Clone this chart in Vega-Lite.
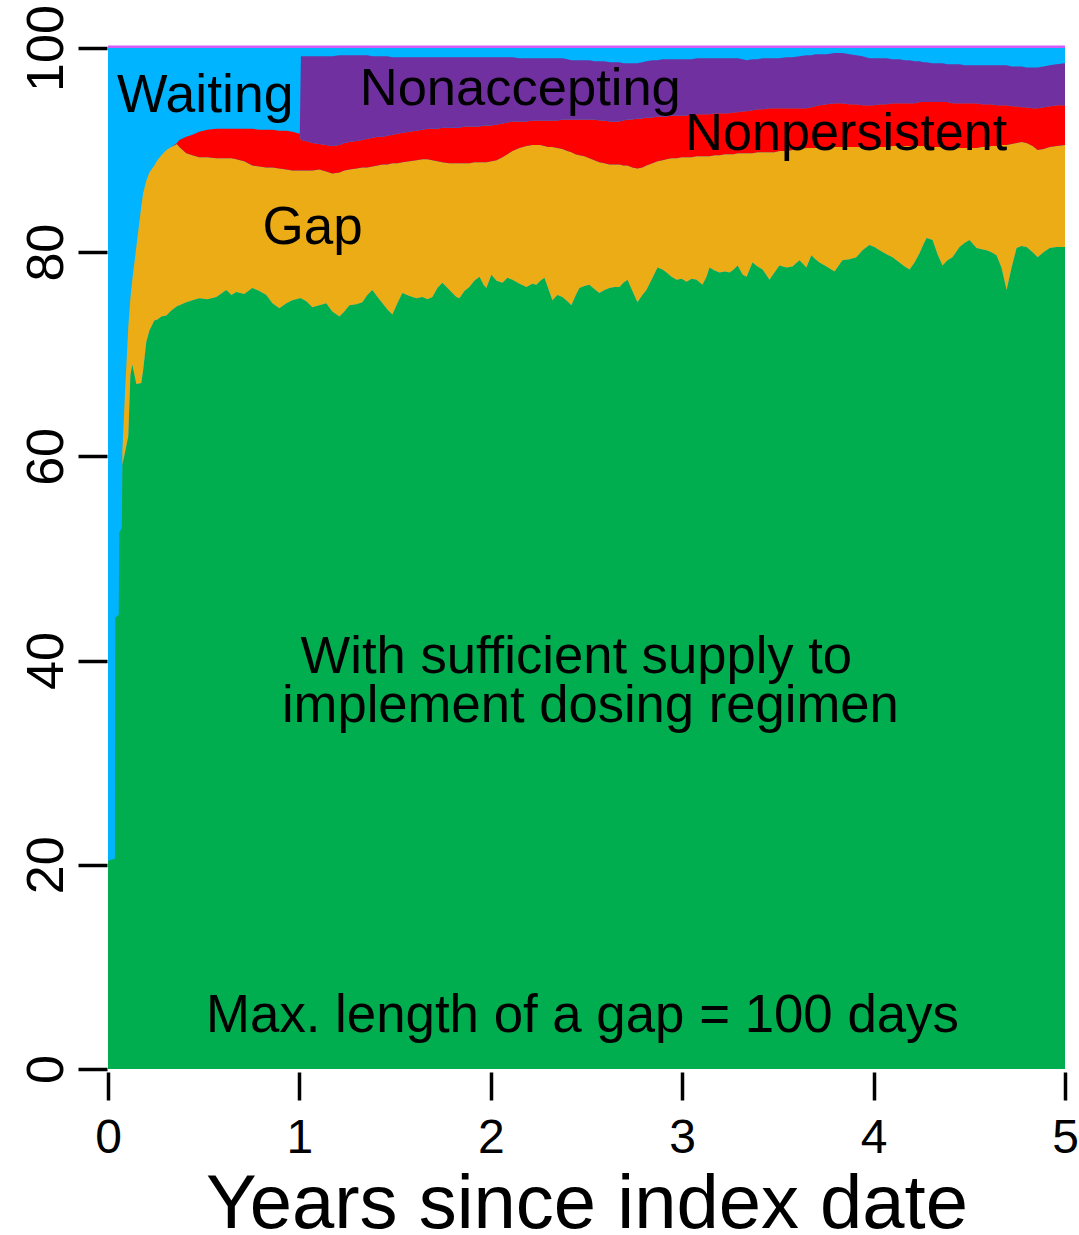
{
  "$schema": "https://vega.github.io/schema/vega-lite/v6.json",
  "width": 957,
  "height": 1021,
  "autosize": {"type": "none"},
  "padding": {"left": 108, "top": 48, "right": 14, "bottom": 166},
  "background": "white",
  "config": {"font": "Liberation Sans", "view": {"stroke": null, "fill": "#00B4FF"}},
  "datasets": {
    "shares": [
      {"t": 0.000, "g": 20.4, "o": 20.4, "r": 20.4, "p": 20.4},
      {"t": 0.036, "g": 20.6, "o": 20.6, "r": 20.6, "p": 20.6},
      {"t": 0.038, "g": 44.2, "o": 44.2, "r": 44.2, "p": 44.2},
      {"t": 0.056, "g": 44.5, "o": 44.5, "r": 44.5, "p": 44.5},
      {"t": 0.059, "g": 52.5, "o": 52.5, "r": 52.5, "p": 52.5},
      {"t": 0.072, "g": 53.0, "o": 53.0, "r": 53.0, "p": 53.0},
      {"t": 0.075, "g": 59.2, "o": 60.5, "r": 60.5, "p": 60.5},
      {"t": 0.090, "g": 60.5, "o": 66.7, "r": 66.7, "p": 66.7},
      {"t": 0.106, "g": 62.0, "o": 72.7, "r": 72.7, "p": 72.7},
      {"t": 0.117, "g": 68.0, "o": 75.5, "r": 75.5, "p": 75.5},
      {"t": 0.127, "g": 69.0, "o": 77.3, "r": 77.3, "p": 77.3},
      {"t": 0.148, "g": 67.1, "o": 80.5, "r": 80.5, "p": 80.5},
      {"t": 0.174, "g": 67.2, "o": 84.5, "r": 84.5, "p": 84.5},
      {"t": 0.184, "g": 68.5, "o": 85.8, "r": 85.8, "p": 85.8},
      {"t": 0.200, "g": 71.2, "o": 87.0, "r": 87.0, "p": 87.0},
      {"t": 0.216, "g": 72.3, "o": 87.8, "r": 87.8, "p": 87.8},
      {"t": 0.242, "g": 73.3, "o": 88.5, "r": 88.5, "p": 88.5},
      {"t": 0.258, "g": 73.4, "o": 89.0, "r": 89.0, "p": 89.0},
      {"t": 0.279, "g": 73.7, "o": 89.5, "r": 89.5, "p": 89.5},
      {"t": 0.305, "g": 73.8, "o": 90.0, "r": 90.0, "p": 90.0},
      {"t": 0.331, "g": 74.3, "o": 90.3, "r": 90.3, "p": 90.3},
      {"t": 0.360, "g": 74.7, "o": 90.6, "r": 90.7, "p": 90.7},
      {"t": 0.373, "g": 74.8, "o": 90.3, "r": 91.0, "p": 91.0},
      {"t": 0.409, "g": 75.1, "o": 89.7, "r": 91.3, "p": 91.3},
      {"t": 0.441, "g": 75.3, "o": 89.5, "r": 91.5, "p": 91.5},
      {"t": 0.477, "g": 75.5, "o": 89.3, "r": 91.8, "p": 91.8},
      {"t": 0.519, "g": 75.4, "o": 89.3, "r": 92.0, "p": 92.0},
      {"t": 0.566, "g": 75.6, "o": 89.2, "r": 92.1, "p": 92.1},
      {"t": 0.618, "g": 76.3, "o": 89.2, "r": 92.1, "p": 92.1},
      {"t": 0.645, "g": 75.8, "o": 89.2, "r": 92.1, "p": 92.1},
      {"t": 0.670, "g": 76.1, "o": 89.1, "r": 92.1, "p": 92.1},
      {"t": 0.712, "g": 75.9, "o": 88.9, "r": 92.1, "p": 92.1},
      {"t": 0.754, "g": 76.5, "o": 88.5, "r": 92.1, "p": 92.1},
      {"t": 0.791, "g": 76.2, "o": 88.4, "r": 92.0, "p": 92.0},
      {"t": 0.827, "g": 75.8, "o": 88.3, "r": 92.0, "p": 92.0},
      {"t": 0.859, "g": 75.0, "o": 88.3, "r": 92.0, "p": 92.0},
      {"t": 0.895, "g": 74.5, "o": 88.2, "r": 91.9, "p": 91.9},
      {"t": 0.932, "g": 75.0, "o": 88.1, "r": 91.9, "p": 91.9},
      {"t": 0.963, "g": 75.3, "o": 88.0, "r": 91.8, "p": 91.8},
      {"t": 1.002, "g": 75.5, "o": 88.0, "r": 91.6, "p": 91.6},
      {"t": 1.008, "g": 75.5, "o": 88.0, "r": 91.0, "p": 99.2},
      {"t": 1.036, "g": 75.2, "o": 88.0, "r": 90.9, "p": 99.2},
      {"t": 1.068, "g": 74.6, "o": 88.0, "r": 90.7, "p": 99.2},
      {"t": 1.104, "g": 74.8, "o": 88.1, "r": 90.6, "p": 99.2},
      {"t": 1.140, "g": 75.0, "o": 87.9, "r": 90.5, "p": 99.2},
      {"t": 1.172, "g": 74.2, "o": 87.7, "r": 90.4, "p": 99.2},
      {"t": 1.209, "g": 73.7, "o": 87.8, "r": 90.5, "p": 99.3},
      {"t": 1.235, "g": 74.2, "o": 88.0, "r": 90.7, "p": 99.3},
      {"t": 1.261, "g": 74.8, "o": 88.1, "r": 90.8, "p": 99.3},
      {"t": 1.298, "g": 74.9, "o": 88.2, "r": 90.9, "p": 99.3},
      {"t": 1.329, "g": 75.1, "o": 88.3, "r": 91.0, "p": 99.3},
      {"t": 1.355, "g": 75.8, "o": 88.3, "r": 91.1, "p": 99.3},
      {"t": 1.381, "g": 76.3, "o": 88.4, "r": 91.2, "p": 99.2},
      {"t": 1.408, "g": 75.6, "o": 88.5, "r": 91.3, "p": 99.2},
      {"t": 1.434, "g": 75.0, "o": 88.6, "r": 91.3, "p": 99.2},
      {"t": 1.460, "g": 74.4, "o": 88.6, "r": 91.4, "p": 99.2},
      {"t": 1.486, "g": 73.9, "o": 88.7, "r": 91.5, "p": 99.1},
      {"t": 1.512, "g": 75.0, "o": 88.7, "r": 91.6, "p": 99.1},
      {"t": 1.538, "g": 76.0, "o": 88.8, "r": 91.7, "p": 99.1},
      {"t": 1.575, "g": 75.7, "o": 88.9, "r": 91.8, "p": 99.1},
      {"t": 1.611, "g": 75.5, "o": 89.0, "r": 91.9, "p": 99.1},
      {"t": 1.643, "g": 75.6, "o": 89.1, "r": 92.0, "p": 99.1},
      {"t": 1.669, "g": 75.4, "o": 89.1, "r": 92.1, "p": 99.1},
      {"t": 1.695, "g": 75.6, "o": 89.0, "r": 92.1, "p": 99.1},
      {"t": 1.721, "g": 76.5, "o": 88.9, "r": 92.1, "p": 99.1},
      {"t": 1.747, "g": 77.0, "o": 88.8, "r": 92.2, "p": 99.1},
      {"t": 1.784, "g": 76.3, "o": 88.7, "r": 92.2, "p": 99.1},
      {"t": 1.820, "g": 75.6, "o": 88.7, "r": 92.2, "p": 99.1},
      {"t": 1.836, "g": 75.5, "o": 88.7, "r": 92.2, "p": 99.1},
      {"t": 1.862, "g": 76.2, "o": 88.7, "r": 92.3, "p": 99.1},
      {"t": 1.888, "g": 76.6, "o": 88.7, "r": 92.3, "p": 99.1},
      {"t": 1.914, "g": 77.2, "o": 88.8, "r": 92.3, "p": 99.1},
      {"t": 1.941, "g": 77.6, "o": 88.8, "r": 92.3, "p": 99.1},
      {"t": 1.962, "g": 76.8, "o": 88.8, "r": 92.4, "p": 99.1},
      {"t": 1.977, "g": 76.5, "o": 88.8, "r": 92.4, "p": 99.1},
      {"t": 2.003, "g": 77.8, "o": 88.9, "r": 92.4, "p": 99.1},
      {"t": 2.030, "g": 77.2, "o": 89.0, "r": 92.5, "p": 99.1},
      {"t": 2.061, "g": 77.0, "o": 89.3, "r": 92.6, "p": 99.1},
      {"t": 2.087, "g": 77.5, "o": 89.6, "r": 92.7, "p": 99.1},
      {"t": 2.113, "g": 77.3, "o": 89.9, "r": 92.8, "p": 99.1},
      {"t": 2.150, "g": 76.9, "o": 90.2, "r": 92.8, "p": 99.0},
      {"t": 2.186, "g": 76.6, "o": 90.4, "r": 92.8, "p": 99.0},
      {"t": 2.217, "g": 76.9, "o": 90.5, "r": 92.9, "p": 99.0},
      {"t": 2.238, "g": 76.8, "o": 90.5, "r": 92.9, "p": 99.0},
      {"t": 2.259, "g": 77.2, "o": 90.5, "r": 92.9, "p": 99.0},
      {"t": 2.280, "g": 77.5, "o": 90.4, "r": 92.9, "p": 99.0},
      {"t": 2.301, "g": 76.4, "o": 90.3, "r": 92.9, "p": 99.0},
      {"t": 2.322, "g": 75.3, "o": 90.3, "r": 92.9, "p": 99.0},
      {"t": 2.348, "g": 75.8, "o": 90.2, "r": 92.9, "p": 99.0},
      {"t": 2.374, "g": 75.6, "o": 90.1, "r": 93.0, "p": 99.0},
      {"t": 2.400, "g": 75.2, "o": 89.9, "r": 93.0, "p": 98.9},
      {"t": 2.421, "g": 74.8, "o": 89.8, "r": 93.0, "p": 98.8},
      {"t": 2.442, "g": 75.7, "o": 89.6, "r": 93.0, "p": 98.8},
      {"t": 2.463, "g": 76.5, "o": 89.5, "r": 93.0, "p": 98.8},
      {"t": 2.489, "g": 76.7, "o": 89.4, "r": 93.0, "p": 98.8},
      {"t": 2.515, "g": 76.8, "o": 89.2, "r": 93.0, "p": 98.8},
      {"t": 2.541, "g": 76.4, "o": 89.0, "r": 93.0, "p": 98.7},
      {"t": 2.567, "g": 76.0, "o": 88.8, "r": 92.9, "p": 98.7},
      {"t": 2.594, "g": 76.3, "o": 88.7, "r": 92.9, "p": 98.7},
      {"t": 2.620, "g": 76.5, "o": 88.6, "r": 92.8, "p": 98.6},
      {"t": 2.646, "g": 76.6, "o": 88.6, "r": 92.8, "p": 98.6},
      {"t": 2.672, "g": 76.6, "o": 88.6, "r": 92.8, "p": 98.6},
      {"t": 2.693, "g": 77.0, "o": 88.5, "r": 92.9, "p": 98.5},
      {"t": 2.714, "g": 77.3, "o": 88.5, "r": 93.0, "p": 98.5},
      {"t": 2.740, "g": 76.2, "o": 88.3, "r": 93.0, "p": 98.5},
      {"t": 2.766, "g": 75.1, "o": 88.2, "r": 93.1, "p": 98.5},
      {"t": 2.792, "g": 75.8, "o": 88.3, "r": 93.1, "p": 98.6},
      {"t": 2.813, "g": 76.3, "o": 88.5, "r": 93.2, "p": 98.7},
      {"t": 2.845, "g": 77.5, "o": 88.7, "r": 93.2, "p": 98.8},
      {"t": 2.871, "g": 78.5, "o": 88.9, "r": 93.3, "p": 98.8},
      {"t": 2.897, "g": 78.3, "o": 89.0, "r": 93.3, "p": 98.9},
      {"t": 2.918, "g": 78.0, "o": 89.1, "r": 93.3, "p": 98.9},
      {"t": 2.944, "g": 77.6, "o": 89.2, "r": 93.4, "p": 98.9},
      {"t": 2.971, "g": 77.3, "o": 89.2, "r": 93.4, "p": 98.9},
      {"t": 2.997, "g": 77.4, "o": 89.3, "r": 93.4, "p": 98.9},
      {"t": 3.023, "g": 77.1, "o": 89.3, "r": 93.4, "p": 98.9},
      {"t": 3.049, "g": 77.4, "o": 89.3, "r": 93.5, "p": 98.9},
      {"t": 3.075, "g": 77.3, "o": 89.4, "r": 93.5, "p": 99.0},
      {"t": 3.106, "g": 76.8, "o": 89.4, "r": 93.5, "p": 99.0},
      {"t": 3.127, "g": 77.6, "o": 89.4, "r": 93.5, "p": 99.0},
      {"t": 3.143, "g": 78.5, "o": 89.4, "r": 93.5, "p": 99.0},
      {"t": 3.169, "g": 78.2, "o": 89.5, "r": 93.6, "p": 99.0},
      {"t": 3.195, "g": 78.0, "o": 89.5, "r": 93.6, "p": 99.0},
      {"t": 3.222, "g": 78.1, "o": 89.6, "r": 93.6, "p": 99.0},
      {"t": 3.248, "g": 78.0, "o": 89.6, "r": 93.6, "p": 99.0},
      {"t": 3.269, "g": 78.3, "o": 89.6, "r": 93.7, "p": 99.0},
      {"t": 3.290, "g": 78.7, "o": 89.7, "r": 93.7, "p": 99.0},
      {"t": 3.316, "g": 77.8, "o": 89.7, "r": 93.8, "p": 98.9},
      {"t": 3.337, "g": 77.6, "o": 89.7, "r": 93.8, "p": 98.8},
      {"t": 3.367, "g": 79.0, "o": 89.7, "r": 93.9, "p": 98.9},
      {"t": 3.394, "g": 78.6, "o": 89.8, "r": 94.0, "p": 98.9},
      {"t": 3.420, "g": 78.3, "o": 89.8, "r": 94.0, "p": 99.0},
      {"t": 3.456, "g": 77.3, "o": 89.8, "r": 94.1, "p": 99.0},
      {"t": 3.482, "g": 78.0, "o": 89.8, "r": 94.1, "p": 99.0},
      {"t": 3.508, "g": 78.7, "o": 89.9, "r": 94.1, "p": 99.0},
      {"t": 3.545, "g": 78.5, "o": 89.9, "r": 94.1, "p": 99.1},
      {"t": 3.576, "g": 78.6, "o": 90.0, "r": 94.1, "p": 99.1},
      {"t": 3.613, "g": 79.2, "o": 90.1, "r": 94.1, "p": 99.2},
      {"t": 3.649, "g": 78.5, "o": 90.2, "r": 94.1, "p": 99.3},
      {"t": 3.675, "g": 79.7, "o": 90.2, "r": 94.2, "p": 99.3},
      {"t": 3.696, "g": 79.3, "o": 90.2, "r": 94.3, "p": 99.4},
      {"t": 3.717, "g": 79.0, "o": 90.3, "r": 94.4, "p": 99.4},
      {"t": 3.754, "g": 78.6, "o": 90.3, "r": 94.5, "p": 99.4},
      {"t": 3.796, "g": 78.1, "o": 90.3, "r": 94.6, "p": 99.5},
      {"t": 3.837, "g": 79.2, "o": 90.3, "r": 94.6, "p": 99.5},
      {"t": 3.874, "g": 79.3, "o": 90.3, "r": 94.5, "p": 99.4},
      {"t": 3.910, "g": 79.5, "o": 90.3, "r": 94.5, "p": 99.3},
      {"t": 3.942, "g": 80.2, "o": 90.3, "r": 94.4, "p": 99.2},
      {"t": 3.978, "g": 80.7, "o": 90.3, "r": 94.4, "p": 99.0},
      {"t": 4.004, "g": 80.5, "o": 90.3, "r": 94.4, "p": 99.0},
      {"t": 4.031, "g": 80.2, "o": 90.3, "r": 94.5, "p": 99.0},
      {"t": 4.067, "g": 79.8, "o": 90.3, "r": 94.5, "p": 99.0},
      {"t": 4.099, "g": 79.5, "o": 90.4, "r": 94.6, "p": 98.9},
      {"t": 4.135, "g": 79.0, "o": 90.4, "r": 94.6, "p": 98.9},
      {"t": 4.162, "g": 78.6, "o": 90.4, "r": 94.6, "p": 98.8},
      {"t": 4.188, "g": 78.3, "o": 90.4, "r": 94.6, "p": 98.8},
      {"t": 4.214, "g": 79.0, "o": 90.4, "r": 94.6, "p": 98.7},
      {"t": 4.240, "g": 79.9, "o": 90.4, "r": 94.7, "p": 98.7},
      {"t": 4.261, "g": 80.8, "o": 90.4, "r": 94.7, "p": 98.6},
      {"t": 4.277, "g": 81.4, "o": 90.3, "r": 94.7, "p": 98.6},
      {"t": 4.308, "g": 81.2, "o": 90.3, "r": 94.7, "p": 98.5},
      {"t": 4.334, "g": 79.8, "o": 90.3, "r": 94.7, "p": 98.5},
      {"t": 4.360, "g": 78.7, "o": 90.3, "r": 94.7, "p": 98.5},
      {"t": 4.386, "g": 79.2, "o": 90.3, "r": 94.7, "p": 98.4},
      {"t": 4.412, "g": 79.5, "o": 90.3, "r": 94.6, "p": 98.4},
      {"t": 4.449, "g": 80.5, "o": 90.2, "r": 94.6, "p": 98.4},
      {"t": 4.475, "g": 80.9, "o": 90.2, "r": 94.6, "p": 98.3},
      {"t": 4.501, "g": 81.2, "o": 90.2, "r": 94.6, "p": 98.3},
      {"t": 4.538, "g": 80.4, "o": 90.2, "r": 94.6, "p": 98.3},
      {"t": 4.564, "g": 80.3, "o": 90.3, "r": 94.5, "p": 98.3},
      {"t": 4.590, "g": 80.2, "o": 90.3, "r": 94.5, "p": 98.3},
      {"t": 4.616, "g": 80.0, "o": 90.4, "r": 94.5, "p": 98.3},
      {"t": 4.642, "g": 79.7, "o": 90.4, "r": 94.4, "p": 98.3},
      {"t": 4.668, "g": 78.5, "o": 90.5, "r": 94.4, "p": 98.3},
      {"t": 4.695, "g": 76.3, "o": 90.5, "r": 94.4, "p": 98.3},
      {"t": 4.721, "g": 78.5, "o": 90.6, "r": 94.3, "p": 98.2},
      {"t": 4.747, "g": 80.4, "o": 90.7, "r": 94.3, "p": 98.2},
      {"t": 4.773, "g": 80.6, "o": 90.8, "r": 94.2, "p": 98.2},
      {"t": 4.799, "g": 80.5, "o": 90.7, "r": 94.2, "p": 98.1},
      {"t": 4.831, "g": 80.0, "o": 90.4, "r": 94.1, "p": 98.1},
      {"t": 4.857, "g": 79.5, "o": 90.0, "r": 94.1, "p": 98.1},
      {"t": 4.888, "g": 80.0, "o": 90.1, "r": 94.2, "p": 98.2},
      {"t": 4.920, "g": 80.4, "o": 90.3, "r": 94.3, "p": 98.3},
      {"t": 4.956, "g": 80.5, "o": 90.4, "r": 94.4, "p": 98.4},
      {"t": 5.000, "g": 80.5, "o": 90.5, "r": 94.4, "p": 98.5}
    ]
  },
  "layer": [
    {
      "data": {"name": "shares"},
      "mark": {"type": "area", "color": "#00AD4F", "interpolate": "linear"},
      "encoding": {
        "x": {
          "field": "t",
          "type": "quantitative",
          "scale": {"domain": [0, 5], "nice": false, "zero": false},
          "axis": {
            "values": [0, 1, 2, 3, 4, 5],
            "format": "d",
            "title": "Years since index date",
            "titleFontSize": 76,
            "titleFontWeight": "normal",
            "titleColor": "black",
            "titlePadding": 5,
            "labelFontSize": 48,
            "labelColor": "black",
            "labelPadding": 14,
            "labelFlush": false,
            "labelOverlap": false,
            "tickColor": "black",
            "tickWidth": 3.5,
            "tickSize": 28,
            "offset": 3,
            "domain": false,
            "grid": false
          }
        },
        "y": {
          "field": "g",
          "type": "quantitative",
          "stack": null,
          "scale": {"domain": [0, 100], "nice": false, "zero": true},
          "axis": {
            "values": [0, 20, 40, 60, 80, 100],
            "title": null,
            "labelAngle": -90,
            "labelAlign": "center",
            "labelBaseline": "alphabetic",
            "labelFontSize": 52,
            "labelColor": "black",
            "labelPadding": 16,
            "labelFlush": false,
            "labelOverlap": false,
            "tickColor": "black",
            "tickWidth": 3.5,
            "tickSize": 29,
            "offset": 1,
            "domain": false,
            "grid": false
          }
        }
      }
    },
    {
      "data": {"name": "shares"},
      "mark": {"type": "area", "color": "#EBAC16", "interpolate": "linear"},
      "encoding": {
        "x": {"field": "t", "type": "quantitative"},
        "y": {"field": "o", "type": "quantitative"},
        "y2": {"field": "g"}
      }
    },
    {
      "data": {"name": "shares"},
      "mark": {"type": "area", "color": "#FF0000", "interpolate": "linear"},
      "encoding": {
        "x": {"field": "t", "type": "quantitative"},
        "y": {"field": "r", "type": "quantitative"},
        "y2": {"field": "o"}
      }
    },
    {
      "data": {"name": "shares"},
      "mark": {"type": "area", "color": "#7030A0", "interpolate": "linear"},
      "encoding": {
        "x": {"field": "t", "type": "quantitative"},
        "y": {"field": "p", "type": "quantitative"},
        "y2": {"field": "r"}
      }
    },
    {
      "data": {"values": [{"edge": "top"}]},
      "mark": {"type": "rule", "color": "#D25CF5", "strokeWidth": 2.5},
      "encoding": {"y": {"datum": 100.12, "type": "quantitative"}}
    },
    {
      "data": {"values": [{"label": "Waiting"}]},
      "mark": {"type": "text", "fontSize": 53.5, "align": "center", "baseline": "alphabetic", "color": "black"},
      "encoding": {"text": {"field": "label"}, "x": {"datum": 0.508, "type": "quantitative"}, "y": {"datum": 93.75, "type": "quantitative"}}
    },
    {
      "data": {"values": [{"label": "Nonaccepting"}]},
      "mark": {"type": "text", "fontSize": 52.5, "align": "center", "baseline": "alphabetic", "color": "black"},
      "encoding": {"text": {"field": "label"}, "x": {"datum": 2.154, "type": "quantitative"}, "y": {"datum": 94.4, "type": "quantitative"}}
    },
    {
      "data": {"values": [{"label": "Nonpersistent"}]},
      "mark": {"type": "text", "fontSize": 52.2, "align": "center", "baseline": "alphabetic", "color": "black"},
      "encoding": {"text": {"field": "label"}, "x": {"datum": 3.857, "type": "quantitative"}, "y": {"datum": 90.0, "type": "quantitative"}}
    },
    {
      "data": {"values": [{"label": "Gap"}]},
      "mark": {"type": "text", "fontSize": 53, "align": "center", "baseline": "alphabetic", "color": "black"},
      "encoding": {"text": {"field": "label"}, "x": {"datum": 1.069, "type": "quantitative"}, "y": {"datum": 80.8, "type": "quantitative"}}
    },
    {
      "data": {"values": [{"label": "With sufficient supply to"}]},
      "mark": {"type": "text", "fontSize": 52.6, "align": "center", "baseline": "alphabetic", "color": "black"},
      "encoding": {"text": {"field": "label"}, "x": {"datum": 2.447, "type": "quantitative"}, "y": {"datum": 38.8, "type": "quantitative"}}
    },
    {
      "data": {"values": [{"label": "implement dosing regimen"}]},
      "mark": {"type": "text", "fontSize": 52.6, "align": "center", "baseline": "alphabetic", "color": "black"},
      "encoding": {"text": {"field": "label"}, "x": {"datum": 2.52, "type": "quantitative"}, "y": {"datum": 34.0, "type": "quantitative"}}
    },
    {
      "data": {"values": [{"label": "Max. length of a gap = 100 days"}]},
      "mark": {"type": "text", "fontSize": 52.8, "align": "center", "baseline": "alphabetic", "color": "black"},
      "encoding": {"text": {"field": "label"}, "x": {"datum": 2.479, "type": "quantitative"}, "y": {"datum": 3.65, "type": "quantitative"}}
    }
  ]
}
